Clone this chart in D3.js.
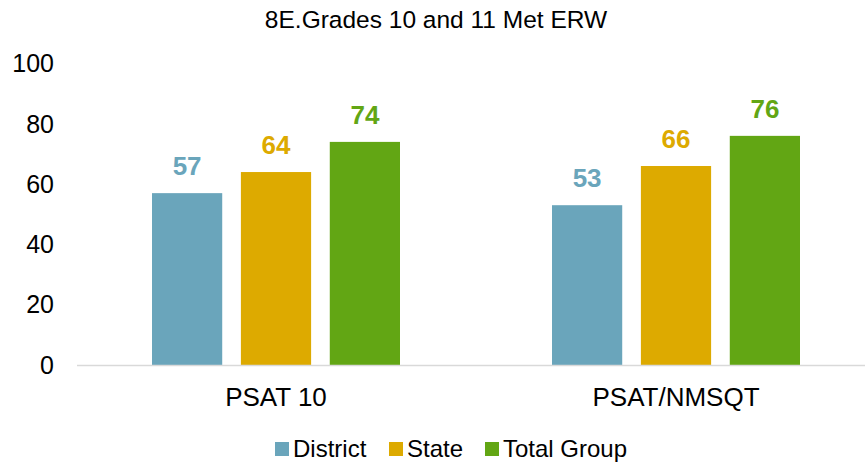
<!DOCTYPE html>
<html>
<head>
<meta charset="utf-8">
<script src="https://cdn.jsdelivr.net/npm/d3@7"></script>
<style>
  body { margin: 0; background: #fff; }
  text { font-family: "Liberation Sans", Arial, sans-serif; }
</style>
</head>
<body>
<div id="chart"></div>
<script>
// Chart data
const categories = ["PSAT 10", "PSAT/NMSQT"];
const series = ["District", "State", "Total Group"];
const district = [57, 53];
const state = [64, 66];
const totalGroup = [74, 76];
const yTicks = [0, 20, 40, 60, 80, 100];
const colors = ["#6aa5bb", "#ddaa00", "#62a614"];

const values = [district, state, totalGroup];
const W = 865, H = 462;

const svg = d3.select("#chart").append("svg")
    .attr("width", W)
    .attr("height", H);

// Scales
const x0 = d3.scaleBand()
    .domain(categories)
    .range([76, 876]);

const x1 = d3.scaleBand()
    .domain(series)
    .range([x0.bandwidth() * 0.19, x0.bandwidth() * 0.81])
    .paddingInner(0.21);

const y = d3.scaleLinear()
    .domain([0, 100])
    .range([365, 63.5]);

// Title
svg.append("text")
    .attr("x", 436)
    .attr("y", 28)
    .attr("text-anchor", "middle")
    .attr("font-size", 24.5)
    .attr("fill", "#000")
    .text("8E.Grades 10 and 11 Met ERW");

// Y axis tick labels
svg.append("g")
    .selectAll("text")
    .data(yTicks)
    .enter().append("text")
    .attr("x", 54)
    .attr("y", d => y(d))
    .attr("dy", "0.35em")
    .attr("text-anchor", "end")
    .attr("font-size", 25)
    .attr("fill", "#000")
    .text(d => d);

// Bars
const groups = svg.append("g")
    .selectAll("g")
    .data(categories)
    .enter().append("g")
    .attr("transform", d => `translate(${x0(d)},0)`);

groups.selectAll("rect")
    .data((c, i) => series.map((s, j) => ({ s, j, v: values[j][i] })))
    .enter().append("rect")
    .attr("x", d => x1(d.s))
    .attr("y", d => y(d.v))
    .attr("width", x1.bandwidth())
    .attr("height", d => y(0) - y(d.v))
    .attr("fill", d => colors[d.j]);

groups.selectAll(".val")
    .data((c, i) => series.map((s, j) => ({ s, j, v: values[j][i] })))
    .enter().append("text")
    .attr("class", "val")
    .attr("x", d => x1(d.s) + x1.bandwidth() / 2)
    .attr("y", d => y(d.v) - 18)
    .attr("text-anchor", "middle")
    .attr("font-size", 26)
    .attr("font-weight", "bold")
    .attr("fill", d => colors[d.j])
    .text(d => d.v);

// Baseline
svg.append("line")
    .attr("x1", 77)
    .attr("x2", 865)
    .attr("y1", y(0) + 0.5)
    .attr("y2", y(0) + 0.5)
    .attr("stroke", "#d9d9d9")
    .attr("stroke-width", 1.5);

// Category labels
svg.append("g")
    .selectAll("text")
    .data(categories)
    .enter().append("text")
    .attr("x", d => x0(d) + x0.bandwidth() / 2)
    .attr("y", 406)
    .attr("text-anchor", "middle")
    .attr("font-size", 26)
    .attr("fill", "#000")
    .text(d => d);

// Legend
const legendX = [275, 389, 485];
const legend = svg.append("g")
    .selectAll("g")
    .data(series)
    .enter().append("g")
    .attr("transform", (d, i) => `translate(${legendX[i]},442)`);

legend.append("rect")
    .attr("width", 14)
    .attr("height", 14)
    .attr("fill", (d, i) => colors[i]);

legend.append("text")
    .attr("x", 18)
    .attr("y", 15)
    .attr("font-size", 24)
    .attr("fill", "#000")
    .text(d => d);
</script>
</body>
</html>
